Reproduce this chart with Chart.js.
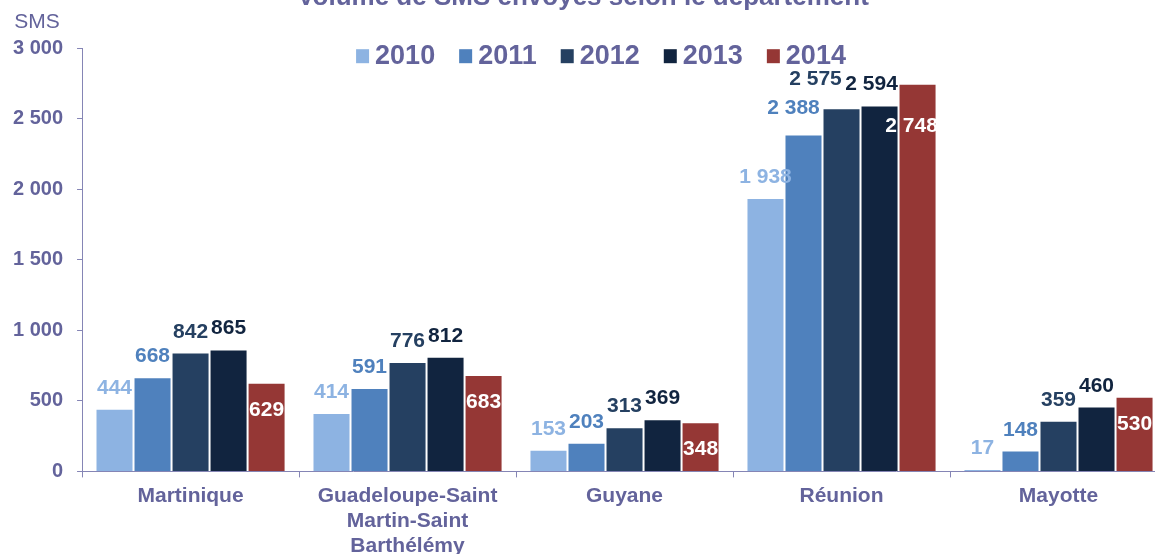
<!DOCTYPE html>
<html lang="fr">
<head>
<meta charset="utf-8">
<title>Volume de SMS envoyés selon le département</title>
<script src="https://cdn.jsdelivr.net/npm/chart.js@4.4.1/dist/chart.umd.min.js"></script>
<style>
  html, body { margin: 0; padding: 0; background: #fff; overflow: hidden; }
  body { width: 1155px; height: 554px; position: relative; }
  #wrap { position: absolute; left: 0; top: -20px; width: 1180px; height: 585px; }
</style>
</head>
<body>
<div id="wrap"><canvas id="chart"></canvas></div>
<script>
  const TEXT_COLOR = '#63639b';
  const AXIS_COLOR = '#8585b5';
  const FONT = "'Liberation Sans', Arial, sans-serif";

  // Données
  const departements = ['Martinique', ['Guadeloupe-Saint', 'Martin-Saint', 'Barthélémy'], 'Guyane', 'Réunion', 'Mayotte'];
  const annees = ['2010', '2011', '2012', '2013', '2014'];
  const sms2010 = [444, 414, 153, 1938, 17];
  const sms2011 = [668, 591, 203, 2388, 148];
  const sms2012 = [842, 776, 313, 2575, 359];
  const sms2013 = [865, 812, 369, 2594, 460];
  const sms2014 = [629, 683, 348, 2748, 530];
  const yTicks = [0, 500, 1000, 1500, 2000, 2500, 3000];

  const barColors = ['#8db3e2', '#4f81bd', '#254061', '#11243f', '#953735'];
  const labelColors = ['#8db3e2', '#4f81bd', '#254061', '#11243f', '#ffffff'];

  // décalages des étiquettes qui se chevauchent (Réunion), [dx, dy] par année
  const labelNudge = { 3: [[0, 0], [-10, -6], [-26, -8], [-8, 0], [-6, 15]] };

  const fmt = (v) => String(v).replace(/\B(?=(\d{3})+(?!\d))/g, ' ');

  // Étiquettes de valeurs : au-dessus pour 2010-2013, à l'intérieur pour 2014
  const valueLabels = {
    id: 'valueLabels',
    afterDatasetsDraw(chart) {
      const { ctx } = chart;
      ctx.save();
      ctx.font = `bold 21px ${FONT}`;
      ctx.textAlign = 'center';
      ctx.textBaseline = 'alphabetic';
      chart.data.datasets.forEach((ds, i) => {
        const meta = chart.getDatasetMeta(i);
        meta.data.forEach((bar, j) => {
          const inside = i === 4;
          const [dx, dy] = labelNudge[j] ? labelNudge[j][i] : [0, 0];
          ctx.fillStyle = labelColors[i];
          const y = inside ? bar.y + 33 : bar.y - 15;
          ctx.fillText(fmt(ds.data[j]), bar.x + dx, y + dy);
        });
      });
      ctx.restore();
    },
  };

  // Légende dessinée dans la zone du graphique + libellé "SMS"
  const overlay = {
    id: 'overlay',
    afterDraw(chart) {
      const { ctx, chartArea } = chart;
      ctx.save();
      ctx.font = `21px ${FONT}`;
      ctx.fillStyle = TEXT_COLOR;
      ctx.textAlign = 'center';
      ctx.textBaseline = 'middle';
      ctx.fillText('SMS', 37, chartArea.top - 26);

      ctx.font = `bold 27px ${FONT}`;
      const box = 13, gapBox = 6, gapItem = 24;
      const widths = annees.map((a) => ctx.measureText(a).width);
      const total = widths.reduce((s, w) => s + box + gapBox + w, 0) + gapItem * (annees.length - 1);
      let x = 601 - total / 2;
      const yc = chartArea.top + 7;
      ctx.textAlign = 'left';
      annees.forEach((a, i) => {
        ctx.fillStyle = barColors[i];
        ctx.fillRect(x, yc - 6, box, 14);
        x += box + gapBox;
        ctx.fillStyle = TEXT_COLOR;
        ctx.fillText(a, x, yc + 1);
        x += widths[i] + gapItem;
      });
      ctx.restore();
    },
  };

  const series = [sms2010, sms2011, sms2012, sms2013, sms2014];

  new Chart(document.getElementById('chart'), {
    type: 'bar',
    data: {
      labels: departements,
      datasets: annees.map((a, i) => ({
        label: a,
        data: series[i],
        backgroundColor: barColors[i],
        borderColor: 'rgba(255,255,255,0.45)',
        borderWidth: 1,
        categoryPercentage: 0.876,
        barPercentage: 1,
      })),
    },
    options: {
      responsive: true,
      maintainAspectRatio: false,
      animation: false,
      layout: { padding: { left: -1, right: 13, top: 0, bottom: 0 } },
      plugins: {
        legend: { display: false },
        tooltip: { enabled: false },
        title: {
          display: true,
          text: 'Volume de SMS envoyés selon le département',
          color: TEXT_COLOR,
          font: { family: FONT, size: 26, weight: 'bold' },
          padding: { top: 2, bottom: 35 },
        },
      },
      scales: {
        x: {
          grid: { display: true, drawOnChartArea: false, drawTicks: true, tickLength: 6, color: AXIS_COLOR },
          border: { display: true, color: AXIS_COLOR, width: 1 },
          ticks: {
            color: TEXT_COLOR,
            font: { family: FONT, size: 21, weight: 'bold', lineHeight: 1.2 },
            padding: 6,
            maxRotation: 0,
            autoSkip: false,
          },
        },
        y: {
          min: yTicks[0],
          max: yTicks[yTicks.length - 1],
          afterBuildTicks(scale) {
            scale.ticks = yTicks.map((v) => ({ value: v }));
          },
          grid: { display: true, drawOnChartArea: false, drawTicks: true, tickLength: 5, color: AXIS_COLOR },
          border: { display: true, color: AXIS_COLOR, width: 1 },
          ticks: {
            color: TEXT_COLOR,
            font: { family: FONT, size: 20, weight: 'bold' },
            padding: 14,
            callback: (v) => fmt(v),
          },
        },
      },
    },
    plugins: [valueLabels, overlay],
  });
</script>
</body>
</html>
